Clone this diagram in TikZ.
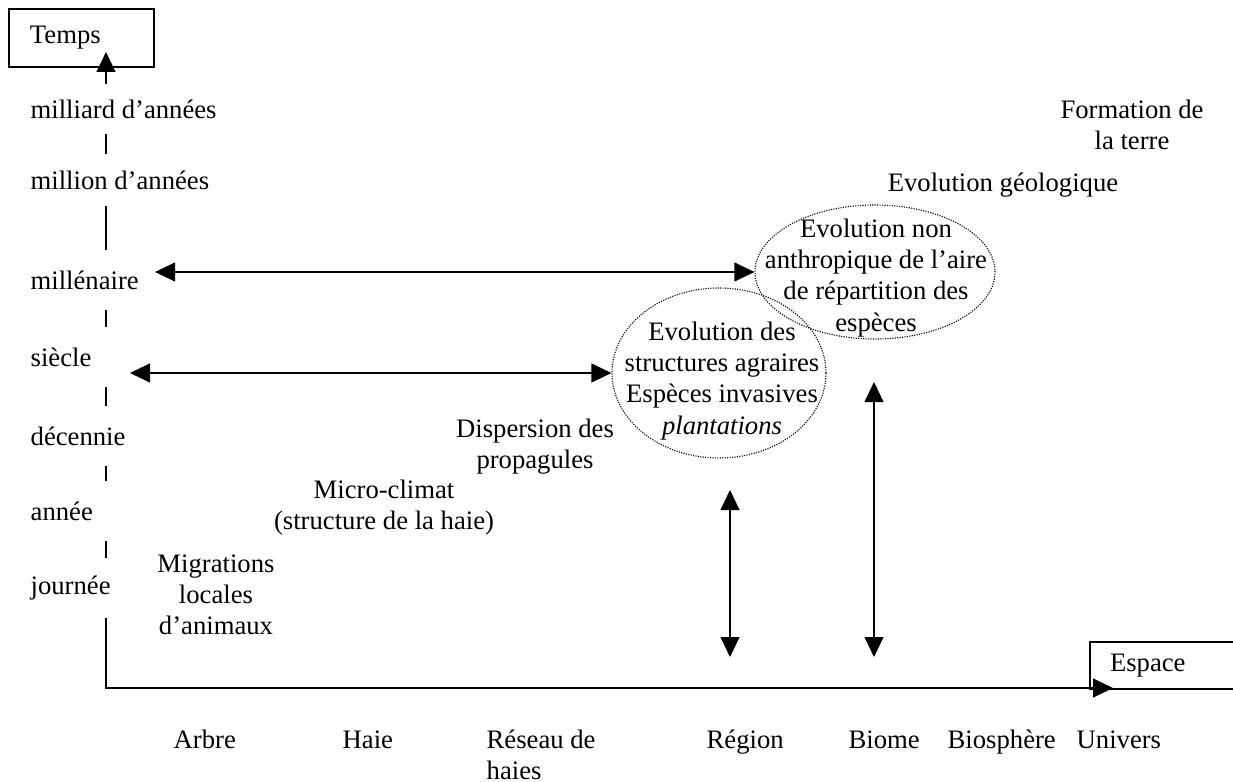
\documentclass[tikz,border=0pt]{standalone}
\usepackage{fontspec}
\setmainfont{Liberation Serif}
\usetikzlibrary{arrows.meta}
\usetikzlibrary{shapes.geometric}

\begin{document}
\begin{tikzpicture}[x=0.45pt, y=-0.45pt, line width=0.6pt,
        >={Triangle[length=9pt,width=8.5pt]},
        every node/.style={font=\fontsize{12}{14}\selectfont},
        tlbl/.style={anchor=west, inner xsep=0pt, minimum height=26pt},
        xlbl/.style={anchor=base west, inner sep=0pt, align=left},
        txt/.style={align=center, inner sep=0pt},
        dots/.style={draw, ellipse, inner sep=0pt, line width=0.5pt, dash pattern=on 0.5pt off 0.6pt},
        axbox/.style={draw, rectangle, align=left, inner ysep=0pt}]
    \useasboundingbox (0,0) rectangle (1233,782);

    \node[axbox, text width=46.35pt, inner xsep=9.45pt, minimum height=26.1pt] (tps) at (81.5,38) {Temps};
    \node[axbox, text width=49.5pt, inner xsep=9pt, minimum height=21.15pt] (esp) at (1165,665.5) {Espace};

    \coordinate (o) at (106,688);
    \coordinate (tt) at (106,52);
    \coordinate (et) at (1113,688);

    \node[tlbl, minimum height=21.6pt] (l1) at (30,109) {milliard d’années};
    \node[tlbl, minimum height=22.5pt] (l2) at (30,180) {million d’années};
    \node[tlbl] (l3) at (30,280) {millénaire};
    \node[tlbl] (l4) at (30,357) {siècle};
    \node[tlbl] (l5) at (30,436) {décennie};
    \node[tlbl] (l6) at (30,511) {année};
    \node[tlbl] (l7) at (30,588) {journée};

    \draw[->] (tt |- l1.north) -- (tt);
    \foreach \a/\b in {l1/l2,l2/l3,l3/l4,l4/l5,l5/l6,l6/l7}
        \draw (tt |- \a.south) -- (tt |- \b.north);
    \draw[->] (tt |- l7.south) -- (o) -- (et);

    \node[xlbl] (x1) at (173,748) {Arbre};
    \node[xlbl] (x2) at (342,748) {Haie};
    \node[xlbl, anchor=north west] (x3) at (486,729) {Réseau de\\haies};
    \node[xlbl] (x4) at (706,748) {Région};
    \node[xlbl] (x5) at (848,748) {Biome};
    \node[xlbl] (x6) at (947,748) {Biosphère};
    \node[xlbl] (x7) at (1076,748) {Univers};

    \node[dots, minimum width=108pt, minimum height=60.3pt] (e1) at (875,272) {};
    \node[dots, minimum width=96.3pt, minimum height=76.5pt] (e2) at (719,373) {};
    \node[txt] (t1) at (876,278) {Evolution non\\anthropique de l’aire\\de répartition des\\espèces};
    \node[txt] (t2) at (722,381) {Evolution des\\structures agraires\\Espèces invasives\\\textit{plantations}};

    \node[txt] (ft) at (1132,125) {Formation de\\la terre};
    \node[txt] (eg) at (1003,185) {Evolution géologique};
    \node[txt] (dp) at (535,447) {Dispersion des\\propagules};
    \node[txt] (mc) at (384,508) {Micro-climat\\(structure de la haie)};
    \node[txt] (ma) at (216,595) {Migrations\\locales\\d’animaux};

    \coordinate (a1) at (155,272);
    \coordinate (a2) at (130,373);
    \coordinate (r1) at (730,490);
    \coordinate (r2) at (730,657);
    \coordinate (b1) at (874,382);
    \coordinate (b2) at (874,657);

    \draw[<->] (a1) -- (e1.west);
    \draw[<->] (a2) -- (e2.west);
    \draw[<->] (r1) -- (r2);
    \draw[<->] (b1) -- (b2);
\end{tikzpicture}
\end{document}
